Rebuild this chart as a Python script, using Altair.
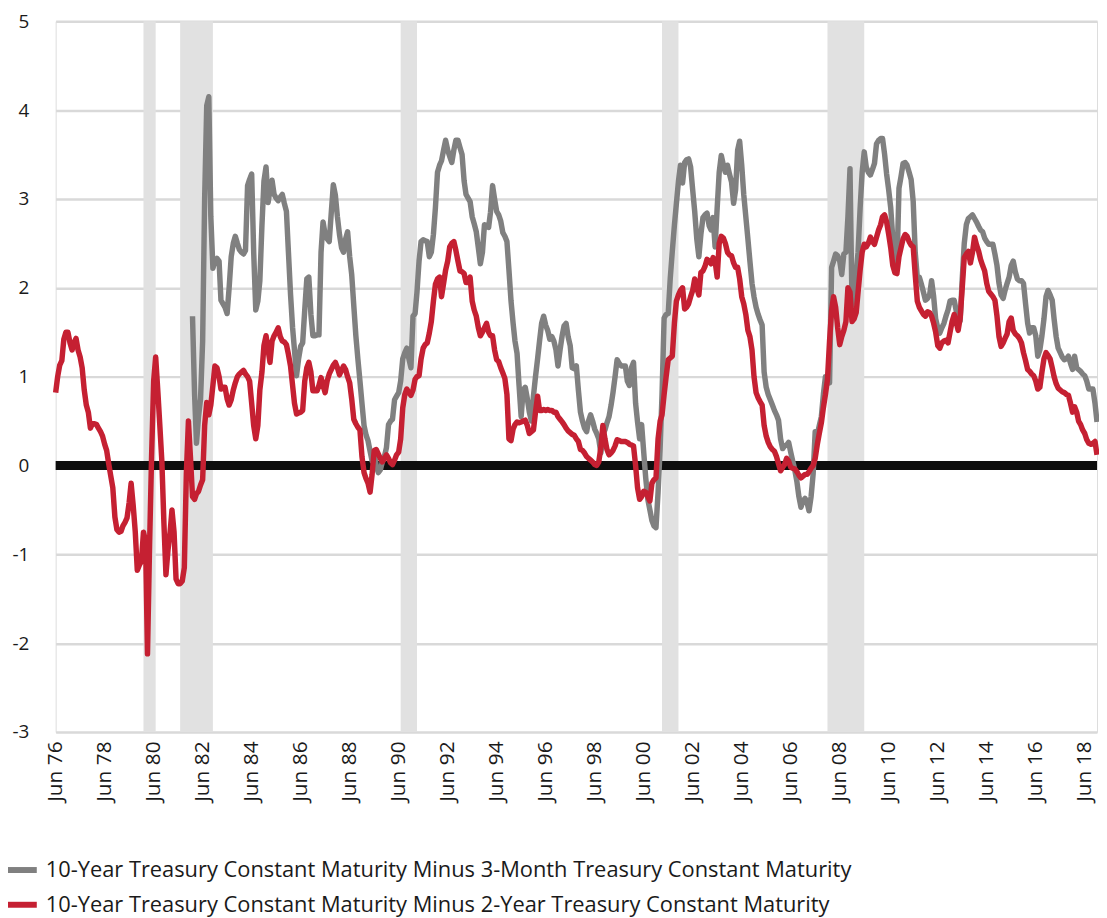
import altair as alt
import pandas as pd

# ---- data (monthly) ----
START_2Y = "1976-06-01"
spread_10y_2y = [
    0.82, 1.00, 1.13, 1.18, 1.42, 1.50, 1.50, 1.38, 1.30, 1.38,
    1.43, 1.30, 1.22, 1.10, 0.85, 0.68, 0.60, 0.42, 0.47, 0.47,
    0.46, 0.42, 0.38, 0.33, 0.24, 0.17, 0.02, -0.12, -0.25, -0.58,
    -0.72, -0.75, -0.74, -0.68, -0.64, -0.59, -0.42, -0.20, -0.45, -0.75,
    -1.18, -1.12, -1.08, -0.75, -0.85, -2.12, -0.90, 0.10, 0.95, 1.22,
    0.85, 0.45, 0.05, -0.65, -1.23, -0.95, -0.75, -0.50, -0.75, -1.28,
    -1.33, -1.33, -1.30, -1.15, -0.10, 0.50, 0.10, -0.35, -0.38, -0.32,
    -0.29, -0.22, -0.16, 0.45, 0.71, 0.57, 0.68, 0.90, 1.12, 1.10,
    1.00, 0.86, 0.88, 0.88, 0.75, 0.68, 0.74, 0.85, 0.93, 1.00,
    1.03, 1.05, 1.07, 1.03, 1.00, 0.95, 0.70, 0.45, 0.30, 0.45,
    0.85, 1.05, 1.35, 1.46, 1.30, 1.16, 1.40, 1.46, 1.50, 1.55,
    1.45, 1.40, 1.39, 1.36, 1.25, 1.12, 0.90, 0.70, 0.58, 0.59,
    0.60, 0.62, 0.95, 1.10, 1.16, 1.05, 0.84, 0.84, 0.84, 0.90,
    0.99, 0.90, 0.82, 0.95, 1.03, 1.08, 1.13, 1.16, 1.10, 1.02,
    1.07, 1.12, 1.08, 1.00, 0.93, 0.75, 0.52, 0.47, 0.43, 0.40,
    0.10, -0.08, -0.15, -0.20, -0.30, -0.10, 0.17, 0.18, 0.13, 0.08,
    0.04, 0.08, 0.12, 0.08, 0.03, 0.01, 0.06, 0.12, 0.15, 0.30,
    0.65, 0.80, 0.86, 0.82, 0.79, 0.85, 0.97, 1.00, 1.01, 1.20,
    1.32, 1.36, 1.38, 1.49, 1.62, 1.85, 2.04, 2.10, 2.12, 1.90,
    2.05, 2.20, 2.30, 2.46, 2.50, 2.52, 2.42, 2.30, 2.19, 2.18,
    2.16, 2.06, 2.06, 2.12, 1.85, 1.75, 1.68, 1.55, 1.46, 1.50,
    1.55, 1.60, 1.50, 1.46, 1.46, 1.30, 1.19, 1.17, 1.10, 1.04,
    0.98, 0.80, 0.30, 0.28, 0.41, 0.46, 0.49, 0.48, 0.49, 0.50,
    0.51, 0.45, 0.36, 0.38, 0.40, 0.60, 0.78, 0.62, 0.62, 0.63,
    0.62, 0.63, 0.62, 0.62, 0.60, 0.60, 0.55, 0.52, 0.49, 0.46,
    0.42, 0.39, 0.37, 0.35, 0.34, 0.30, 0.27, 0.18, 0.17, 0.14,
    0.10, 0.08, 0.06, 0.04, 0.01, 0.00, 0.04, 0.20, 0.45, 0.30,
    0.18, 0.12, 0.14, 0.17, 0.22, 0.29, 0.28, 0.27, 0.27, 0.27,
    0.26, 0.24, 0.23, 0.22, 0.00, -0.25, -0.38, -0.35, -0.29, -0.30,
    -0.35, -0.40, -0.20, -0.16, -0.14, 0.30, 0.50, 0.57, 0.80, 1.00,
    1.19, 1.21, 1.23, 1.60, 1.85, 1.92, 1.97, 2.00, 1.76, 1.78,
    1.82, 1.90, 1.97, 2.10, 2.00, 1.92, 2.17, 2.19, 2.24, 2.32,
    2.30, 2.27, 2.34, 2.30, 2.12, 2.50, 2.58, 2.56, 2.50, 2.40,
    2.37, 2.36, 2.28, 2.23, 2.23, 2.10, 1.90, 1.82, 1.70, 1.52,
    1.45, 1.30, 1.00, 0.82, 0.76, 0.72, 0.68, 0.45, 0.33, 0.26,
    0.21, 0.18, 0.16, 0.10, 0.02, -0.06, -0.02, 0.01, 0.08, 0.05,
    -0.02, -0.03, -0.04, -0.07, -0.11, -0.14, -0.12, -0.10, -0.10, -0.07,
    -0.03, 0.00, 0.08, 0.23, 0.36, 0.48, 0.65, 0.80, 0.97, 1.40,
    1.75, 1.90, 1.78, 1.55, 1.36, 1.45, 1.52, 1.62, 2.00, 1.95,
    1.62, 1.65, 1.72, 1.95, 2.20, 2.40, 2.49, 2.46, 2.50, 2.57,
    2.52, 2.49, 2.57, 2.65, 2.71, 2.80, 2.82, 2.74, 2.60, 2.45,
    2.25, 2.17, 2.16, 2.35, 2.45, 2.55, 2.60, 2.58, 2.52, 2.48,
    2.46, 2.15, 1.85, 1.78, 1.74, 1.70, 1.68, 1.73, 1.72, 1.68,
    1.60, 1.50, 1.35, 1.32, 1.38, 1.40, 1.41, 1.38, 1.50, 1.62,
    1.70, 1.62, 1.52, 1.66, 2.00, 2.34, 2.38, 2.41, 2.28, 2.40,
    2.57, 2.48, 2.41, 2.32, 2.25, 2.19, 2.05, 1.96, 1.93, 1.90,
    1.86, 1.68, 1.45, 1.34, 1.38, 1.43, 1.48, 1.62, 1.66, 1.52,
    1.48, 1.46, 1.43, 1.38, 1.27, 1.18, 1.08, 1.06, 1.03, 1.01,
    0.95, 0.86, 0.88, 1.05, 1.20, 1.27, 1.24, 1.20, 1.10, 1.00,
    0.92, 0.87, 0.85, 0.83, 0.82, 0.80, 0.79, 0.70, 0.60, 0.66,
    0.60, 0.50, 0.46, 0.40, 0.36, 0.29, 0.25, 0.24, 0.25, 0.27,
    0.12,
]

START_3M = "1982-01-01"
spread_10y_3m = [
    1.68, 0.80, 0.25,
    0.55, 0.75, 1.40, 3.00, 4.05, 4.15, 2.80, 2.22, 2.30, 2.33,
    2.30, 1.86, 1.82, 1.78, 1.71, 2.00, 2.35, 2.50, 2.58, 2.50,
    2.43, 2.40, 2.38, 2.42, 3.15, 3.22, 3.28, 2.40, 1.75, 1.85,
    2.08, 2.70, 3.20, 3.36, 2.96, 3.10, 3.21, 3.05, 3.01, 2.98,
    3.02, 3.05, 2.95, 2.86, 2.40, 1.93, 1.55, 1.30, 1.01, 1.20,
    1.34, 1.38, 1.75, 2.10, 2.12, 1.70, 1.46, 1.46, 1.47, 1.47,
    2.40, 2.74, 2.60, 2.55, 2.52, 2.85, 3.16, 3.04, 2.80, 2.60,
    2.45, 2.40, 2.55, 2.63, 2.35, 2.15, 1.80, 1.46, 1.20, 0.95,
    0.70, 0.45, 0.34, 0.28, 0.16, 0.05, 0.15, 0.00, -0.08, -0.05,
    0.04, 0.10, 0.20, 0.46, 0.50, 0.52, 0.74, 0.78, 0.82, 0.95,
    1.20, 1.27, 1.32, 1.20, 1.10, 1.68, 1.71, 1.95, 2.30, 2.52,
    2.54, 2.53, 2.52, 2.35, 2.40, 2.60, 2.90, 3.30, 3.38, 3.43,
    3.55, 3.66, 3.55, 3.48, 3.41, 3.55, 3.66, 3.66, 3.58, 3.50,
    3.20, 3.05, 3.01, 2.97, 2.80, 2.72, 2.63, 2.45, 2.27, 2.40,
    2.71, 2.70, 2.68, 2.85, 3.15, 3.00, 2.86, 2.82, 2.75, 2.62,
    2.58, 2.52, 2.20, 1.85, 1.60, 1.40, 1.26, 0.90, 0.55, 0.85,
    0.88, 0.75, 0.60, 0.50, 0.78, 1.00, 1.20, 1.40, 1.60, 1.68,
    1.58, 1.52, 1.42, 1.45, 1.40, 1.30, 1.12, 1.30, 1.46, 1.57,
    1.60, 1.45, 1.35, 1.10, 1.09, 1.12, 0.85, 0.60, 0.50, 0.42,
    0.38, 0.50, 0.57, 0.50, 0.41, 0.36, 0.30, 0.14, 0.35, 0.40,
    0.48, 0.55, 0.68, 0.82, 1.00, 1.19, 1.15, 1.12, 1.12, 1.12,
    0.95, 0.90, 1.10, 1.16, 0.70, 0.49, 0.30, 0.46, 0.15, -0.14,
    -0.38, -0.50, -0.62, -0.68, -0.70, -0.30, 0.20, 0.80, 1.66, 1.70,
    1.71, 2.10, 2.41, 2.70, 2.95, 3.20, 3.38, 3.18, 3.41, 3.44,
    3.45, 3.36, 3.10, 2.86, 2.55, 2.35, 2.60, 2.79, 2.82, 2.84,
    2.70, 2.65, 2.79, 2.46, 2.90, 3.30, 3.49, 3.38, 3.30, 3.38,
    3.28, 3.19, 2.95, 3.10, 3.55, 3.65, 3.38, 3.05, 2.80, 2.55,
    2.30, 2.05, 1.90, 1.78, 1.70, 1.64, 1.58, 1.05, 0.88, 0.80,
    0.74, 0.68, 0.62, 0.57, 0.51, 0.30, 0.19, 0.22, 0.23, 0.26,
    0.15, 0.05, -0.05, -0.18, -0.35, -0.47, -0.40, -0.37, -0.42, -0.51,
    -0.35, -0.10, 0.38, 0.34, 0.45, 0.55, 0.80, 1.00, 0.98, 0.93,
    2.23, 2.30, 2.38, 2.36, 2.30, 2.15, 2.38, 2.40, 2.80, 3.34,
    1.80, 2.00, 2.16, 2.40, 2.90, 3.30, 3.53, 3.36, 3.30, 3.27,
    3.33, 3.40, 3.62, 3.66, 3.68, 3.68, 3.50, 3.28, 3.10, 2.90,
    2.55, 2.35, 2.20, 3.12, 3.25, 3.40, 3.41, 3.38, 3.30, 3.22,
    2.97, 2.40, 2.12, 2.12, 2.04, 1.95, 1.86, 1.88, 1.92, 2.08,
    1.90, 1.65, 1.55, 1.49, 1.55, 1.60, 1.68, 1.75, 1.85, 1.86,
    1.86, 1.75, 1.63, 1.63, 2.10, 2.50, 2.71, 2.78, 2.80, 2.82,
    2.78, 2.74, 2.69, 2.65, 2.63, 2.56, 2.52, 2.49, 2.49, 2.49,
    2.38, 2.25, 2.05, 1.92, 1.88, 1.97, 2.05, 2.12, 2.25, 2.30,
    2.18, 2.10, 2.08, 2.08, 2.05, 1.82, 1.60, 1.49, 1.55, 1.55,
    1.46, 1.23, 1.30, 1.46, 1.65, 1.90, 1.97, 1.92, 1.86, 1.65,
    1.45, 1.32, 1.27, 1.22, 1.19, 1.20, 1.23, 1.15, 1.08, 1.23,
    1.10, 1.08, 1.06, 1.03, 1.01, 0.95, 0.86, 0.86, 0.86, 0.70,
    0.49,
]

recession_start = ["1980-01-01", "1981-07-01", "1990-07-01", "2001-03-01", "2007-12-01"]
recession_end = ["1980-07-01", "1982-11-01", "1991-03-01", "2001-11-01", "2009-06-01"]

SERIES_3M = "10-Year Treasury Constant Maturity Minus 3-Month Treasury Constant Maturity"
SERIES_2Y = "10-Year Treasury Constant Maturity Minus 2-Year Treasury Constant Maturity"

y_ticks = [-3, -2, -1, 0, 1, 2, 3, 4, 5]
tick_years = list(range(1976, 2019, 2))

GRAY = "#808080"
RED = "#c52032"
FONT = "Open Sans"
TEXT = "#1a1a1a"

PLOT_H = 716

# ---- tables ----
def monthly(start, values, name):
    dates = pd.date_range(start, periods=len(values), freq="MS").strftime("%Y-%m-%d")
    return pd.DataFrame({"date": dates, "value": values, "series": name})

df_3m = monthly(START_3M, spread_10y_3m, SERIES_3M)
df_2y = monthly(START_2Y, spread_10y_2y, SERIES_2Y)
rec = pd.DataFrame({"start": recession_start, "end": recession_end})
zero = pd.DataFrame({"y": [0]})

x_scale = alt.Scale(
    type="utc",
    domain=[alt.DateTime(year=1976, month=6, date=1, utc=True),
            alt.DateTime(year=2018, month=12, date=1, utc=True)],
)
y_scale = alt.Scale(domain=[-3, 5], nice=False, zero=False)

x_axis = alt.Axis(
    values=[alt.DateTime(year=y, month=6, date=1, utc=True) for y in tick_years],
    labelExpr="'Jun ' + substring('' + utcyear(datum.value), 2, 4)",
    labelAngle=-90, labelFontSize=21,
    labelPadding=9, labelColor=TEXT, labelFont=FONT, labelLimit=300,
    grid=False, ticks=False, domain=False, title=None, labelOverlap=False,
)
y_axis = alt.Axis(
    values=y_ticks, labelExpr="'' + datum.value", labelFontSize=19, labelPadding=27,
    labelColor=TEXT, labelFont=FONT, grid=True, gridColor="#d9d9d9",
    gridWidth=2.5, ticks=False, domain=False, title=None,
)

color = alt.Color(
    "series:N",
    scale=alt.Scale(domain=[SERIES_3M, SERIES_2Y], range=[GRAY, RED]),
    legend=alt.Legend(
        orient="none", legendX=-52, legendY=837, direction="vertical", title=None,
        symbolType="stroke", symbolStrokeWidth=6, symbolSize=900,
        labelFontSize=22, labelFont=FONT, labelColor=TEXT, labelLimit=2000,
        rowPadding=5, labelOffset=6,
    ),
)

bands = alt.Chart(rec).mark_rect(color="#e1e1e1").encode(
    x=alt.X("start:T", scale=x_scale, axis=x_axis),
    x2="end:T",
    y=alt.value(0),
    y2=alt.value(PLOT_H),
)

grid_base = alt.Chart(zero).mark_rule(opacity=0).encode(
    y=alt.Y("y:Q", scale=y_scale, axis=y_axis)
)

zero_line = alt.Chart(zero).mark_rule(color="#0e0e0e", strokeWidth=9).encode(
    y=alt.Y("y:Q", scale=y_scale)
)

line_3m = alt.Chart(df_3m).mark_line(strokeWidth=5.5, strokeJoin="round").encode(
    x=alt.X("date:T", scale=x_scale),
    y=alt.Y("value:Q", scale=y_scale),
    color=color,
)
line_2y = alt.Chart(df_2y).mark_line(strokeWidth=5.5, strokeJoin="round").encode(
    x=alt.X("date:T", scale=x_scale),
    y=alt.Y("value:Q", scale=y_scale),
    color=color,
)

chart = alt.layer(bands, grid_base, zero_line, line_3m, line_2y).properties(
    width=1049, height=PLOT_H,
    autosize=alt.AutoSizeParams(type="none"),
    padding={"left": 48, "top": 10, "right": 2, "bottom": 184},
).configure_view(stroke=None).configure(font=FONT)

chart.save("out.html", embed_options={"renderer": "svg", "actions": False})
